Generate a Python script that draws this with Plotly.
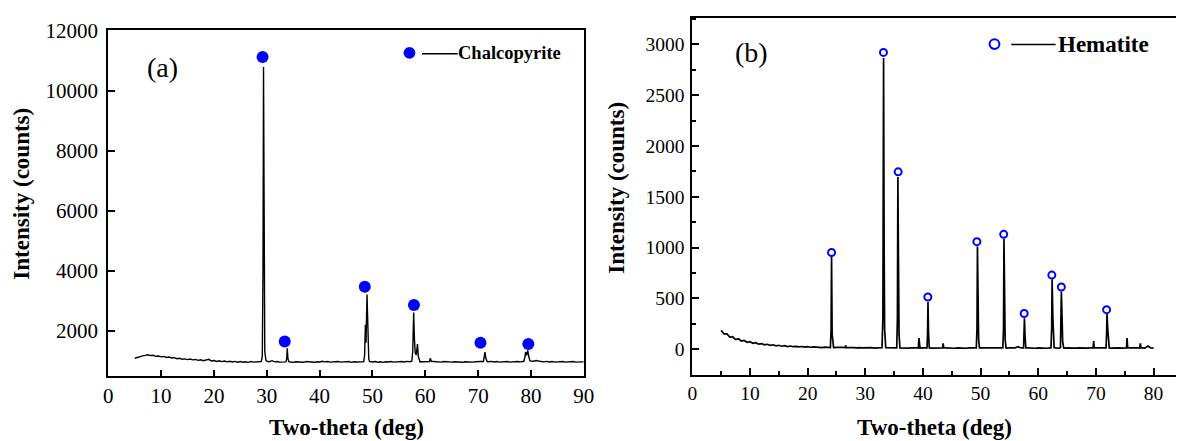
import plotly.graph_objects as go

# ---------------------------------------------------------------- data
# (a) chalcopyrite sample: background scan, 0.5 deg step from 5 to 90 deg
CHALCO_START, CHALCO_STEP = 5.0, 0.5
chalco_background = [
    1085, 1120, 1140, 1165, 1180, 1200, 1175, 1185, 1150, 1160,
    1130, 1145, 1110, 1125, 1095, 1105, 1070, 1085, 1050, 1065,
    1040, 1060, 1030, 1045, 1015, 1035, 1005, 1020, 1050, 995,
    1010, 980, 1000, 975, 995, 965, 985, 960, 980, 955,
    975, 955, 970, 950, 975, 955, 970, 960, 975, 965,
    985, 970, 1005, 965, 975, 955, 965, 950, 970, 960,
    950, 970, 955, 965, 950, 975, 955, 960, 950, 970,
    960, 985, 965, 975, 955, 970, 960, 975, 955, 970,
    960, 975, 950, 970, 960, 975, 965, 980, 970, 975,
    960, 975, 955, 970, 950, 970, 960, 975, 955, 970,
    965, 975, 960, 980, 970, 990, 985, 975, 960, 970,
    965, 980, 1000, 975, 960, 970, 955, 975, 960, 970,
    955, 970, 960, 975, 950, 970, 960, 975, 955, 970,
    960, 975, 965, 990, 970, 980, 960, 975, 955, 970,
    960, 975, 955, 970, 960, 975, 965, 980, 1000, 1010,
    990, 985, 1010, 980, 975, 965, 980, 960, 975, 955,
    970, 960, 975, 955, 970, 960, 975, 955, 970, 965,
    965,
]
# reflection profiles (two-theta, counts)
chalco_peaks = [
    [(28.95, 975), (29.15, 1150), (29.28, 4000), (29.38, 10780), (29.48, 4500), (29.62, 1300), (29.85, 1010)],
    [(33.62, 965), (33.76, 1060), (33.88, 1420), (34.0, 1070), (34.18, 970)],
    [(48.35, 975), (48.52, 1200), (48.66, 2200), (48.78, 1600), (48.97, 3210), (49.12, 1500), (49.3, 1060), (49.45, 980)],
    [(57.45, 985), (57.62, 1300), (57.8, 2610), (57.95, 1700), (58.1, 1250), (58.3, 1200), (58.52, 1560), (58.68, 1150), (58.9, 985)],
    [(60.8, 975), (60.95, 1085), (61.15, 980)],
    [(71.0, 975), (71.16, 1090), (71.3, 1290), (71.45, 1090), (71.7, 975)],
    [(78.65, 985), (78.85, 1120), (79.0, 1290), (79.15, 1180), (79.4, 1345), (79.55, 1160), (79.8, 1010)],
]
# indexed chalcopyrite reflections
chalco_mark_theta = [29.2, 33.4, 48.55, 57.85, 70.45, 79.5]
chalco_mark_counts = [11120, 1645, 3470, 2855, 1600, 1560]

# (b) hematite sample: background scan, 0.5 deg step from 5 to 80 deg
HEMA_START, HEMA_STEP = 5.0, 0.5
hema_background = [
    185, 150, 150, 118, 122, 95, 102, 80, 86, 68,
    74, 58, 63, 49, 55, 42, 48, 38, 43, 33,
    38, 29, 34, 26, 31, 24, 28, 22, 26, 20,
    24, 19, 22, 18, 21, 16, 20, 15, 19, 15,
    18, 14, 17, 13, 17, 13, 16, 12, 16, 12,
    15, 12, 15, 11, 14, 11, 14, 11, 14, 11,
    13, 10, 13, 10, 13, 10, 13, 10, 13, 10,
    13, 10, 12, 10, 12, 10, 12, 9, 12, 10,
    12, 9, 12, 10, 12, 9, 12, 10, 12, 9,
    12, 10, 12, 9, 12, 10, 12, 9, 12, 10,
    12, 9, 13, 25, 12, 9, 12, 10, 12, 9,
    12, 10, 12, 9, 12, 10, 12, 9, 12, 10,
    12, 9, 12, 10, 12, 9, 12, 10, 12, 9,
    12, 10, 12, 9, 12, 10, 12, 9, 12, 10,
    12, 9, 12, 10, 12, 9, 12, 10, 30, 12,
    10,
]
hema_peaks = [
    [(23.95, 15), (24.07, 200), (24.15, 910), (24.25, 150), (24.4, 15)],
    [(26.5, 16), (26.6, 35), (26.7, 16)],
    [(32.9, 15), (33.05, 300), (33.1, 1510), (33.17, 2865), (33.27, 1000), (33.35, 200), (33.55, 14)],
    [(35.45, 13), (35.57, 300), (35.65, 1695), (35.75, 900), (35.85, 150), (36.0, 13)],
    [(39.2, 12), (39.3, 110), (39.4, 12)],
    [(40.7, 12), (40.8, 150), (40.87, 465), (40.97, 150), (41.1, 12)],
    [(43.4, 12), (43.5, 57), (43.6, 12)],
    [(49.25, 12), (49.37, 200), (49.45, 1010), (49.55, 550), (49.65, 100), (49.8, 12)],
    [(53.85, 12), (53.97, 200), (54.05, 1085), (54.15, 605), (54.25, 100), (54.4, 12)],
    [(57.45, 12), (57.55, 120), (57.6, 305), (57.7, 130), (57.85, 12)],
    [(62.2, 12), (62.32, 200), (62.4, 688), (62.52, 325), (62.62, 80), (62.75, 15)],
    [(63.85, 15), (63.93, 200), (64.0, 568), (64.12, 325), (64.22, 80), (64.4, 12)],
    [(69.5, 12), (69.6, 80), (69.7, 12)],
    [(71.75, 12), (71.85, 150), (71.92, 350), (72.02, 225), (72.15, 60), (72.3, 12)],
    [(75.3, 12), (75.4, 110), (75.5, 15)],
    [(77.6, 12), (77.7, 57), (77.8, 12)],
]
hema_mark_theta = [24.15, 33.15, 35.7, 40.85, 49.35, 54.0, 57.55, 62.35, 64.0, 71.85]
hema_mark_counts = [951, 2921, 1745, 513, 1058, 1130, 351, 729, 612, 389]

chalco_x_ticks = [0, 10, 20, 30, 40, 50, 60, 70, 80, 90]
chalco_y_ticks = [2000, 4000, 6000, 8000, 10000, 12000]
hema_x_ticks = [0, 10, 20, 30, 40, 50, 60, 70, 80]
hema_y_ticks = [0, 500, 1000, 1500, 2000, 2500, 3000]


def build_pattern(start, step, background, peaks):
    """Merge the background scan with the reflection profiles."""
    pts = []
    spans = [(p[0][0], p[-1][0]) for p in peaks]
    for i, c in enumerate(background):
        t = round(start + step * i, 3)
        if any(lo <= t <= hi for lo, hi in spans):
            continue
        pts.append((t, c))
    for p in peaks:
        pts.extend(p)
    pts.sort()
    return [p[0] for p in pts], [p[1] for p in pts]


chalco_theta, chalco_counts = build_pattern(CHALCO_START, CHALCO_STEP, chalco_background, chalco_peaks)
hema_theta, hema_counts = build_pattern(HEMA_START, HEMA_STEP, hema_background, hema_peaks)

# ---------------------------------------------------------------- figure
W, H = 1187, 441
SERIF = "Liberation Serif"
BLUE = "#0000FF"


def px(x):
    return x / W


def py(y):
    return 1 - y / H


fig = go.Figure()
fig.add_trace(go.Scatter(x=chalco_theta, y=chalco_counts, mode="lines",
                         line=dict(color="black", width=1.4), xaxis="x", yaxis="y"))
fig.add_trace(go.Scatter(x=chalco_mark_theta, y=chalco_mark_counts, mode="markers",
                         marker=dict(symbol="circle", size=12, color=BLUE), xaxis="x", yaxis="y"))
fig.add_trace(go.Scatter(x=hema_theta, y=hema_counts, mode="lines",
                         line=dict(color="black", width=1.7), xaxis="x2", yaxis="y2"))
fig.add_trace(go.Scatter(x=hema_mark_theta, y=hema_mark_counts, mode="markers",
                         marker=dict(symbol="circle-open", size=7, color=BLUE, line=dict(width=2, color=BLUE)),
                         xaxis="x2", yaxis="y2"))

fig.update_layout(
    width=W, height=H, margin=dict(l=0, r=0, t=0, b=0),
    paper_bgcolor="white", plot_bgcolor="white", showlegend=False,
    font=dict(family=SERIF, color="black", size=19),
    xaxis=dict(domain=[px(104.7), px(586.7)], anchor="y", range=[0, 90], mirror=True,
               tickvals=chalco_x_ticks, ticktext=[str(v) for v in chalco_x_ticks], ticklen=6,
               ticklabelstandoff=0),
    yaxis=dict(domain=[py(374), py(19)], anchor="x", range=[500, 12000], mirror=True,
               tickvals=chalco_y_ticks, ticktext=[str(v) for v in chalco_y_ticks], ticklen=7,
               ticklabelstandoff=4),
    xaxis2=dict(domain=[px(696.7), 1.0], anchor="y2", range=[0, (W - 696.7) / 5.845], mirror=True,
                tickvals=hema_x_ticks, ticktext=[str(v) for v in hema_x_ticks], ticklen=7,
                ticklabelstandoff=0,
                minor=dict(ticks="inside", ticklen=4, tickwidth=1.5, tickcolor="black", tick0=0, dtick=5)),
    yaxis2=dict(domain=[py(372.7), py(6)], anchor="x2", range=[-250, 3261], mirror=False,
                tickvals=hema_y_ticks, ticktext=[str(v) for v in hema_y_ticks], ticklen=7,
                ticklabelstandoff=2,
                minor=dict(ticks="inside", ticklen=4, tickwidth=1.5, tickcolor="black", tick0=0, dtick=250)),
)
# shared axis styling
fig.update_xaxes(showgrid=False, zeroline=False, showline=True, linecolor="black", linewidth=2,
                 ticks="inside", tickcolor="black", tickwidth=1.5)
fig.update_yaxes(showgrid=False, zeroline=False, showline=True, linecolor="black", linewidth=2,
                 ticks="inside", tickcolor="black", tickwidth=1.5)
fig.update_layout(xaxis_tickfont=dict(family=SERIF, size=21, color="black"),
                  yaxis_tickfont=dict(family=SERIF, size=21, color="black"),
                  xaxis2_tickfont=dict(family=SERIF, size=19.5, color="black"),
                  yaxis2_tickfont=dict(family=SERIF, size=19.5, color="black"))

annotations = []
title_font = dict(family=SERIF, size=23, color="black", weight="bold")
for xc, yc in [(17, 187), (619, 181)]:
    annotations.append(dict(text="Intensity (counts)", x=px(xc), y=py(yc), xref="paper", yref="paper",
                            textangle=-90, showarrow=False, font=title_font,
                            xanchor="center", yanchor="middle"))
for xc, yc in [(346, 427), (942, 427)]:
    annotations.append(dict(text="Two-theta (deg)", x=px(xc), y=py(yc), xref="paper", yref="paper",
                            showarrow=False, font=title_font, xanchor="center", yanchor="middle"))
# panel letters
for txt, xc, yc in [("(a)", 160, 57), ("(b)", 757, 42)]:
    annotations.append(dict(text=txt, x=px(xc), y=py(yc), xref="paper", yref="paper", showarrow=False,
                            font=dict(family=SERIF, size=28, color="black"),
                            xanchor="center", yanchor="middle"))
# phase keys
annotations.append(dict(text="Chalcopyrite", x=px(459), y=py(42), xref="paper", yref="paper", showarrow=False,
                        font=dict(family=SERIF, size=18.5, color="black", weight="bold"),
                        xanchor="left", yanchor="middle", xshift=-2))
annotations.append(dict(text="Hematite", x=px(1065), y=py(33), xref="paper", yref="paper", showarrow=False,
                        font=dict(family=SERIF, size=23, color="black", weight="bold"),
                        xanchor="left", yanchor="middle", xshift=0))
fig.update_layout(annotations=annotations)

shapes = [
    dict(type="circle", xref="paper", yref="paper", x0=px(404), x1=px(416), y0=py(48), y1=py(36),
         fillcolor=BLUE, line=dict(color=BLUE, width=0)),
    dict(type="line", xref="paper", yref="paper", x0=px(422.7), x1=px(459), y0=py(43), y1=py(43),
         line=dict(color="black", width=1.5)),
    dict(type="circle", xref="paper", yref="paper", x0=px(998), x1=px(1008), y0=py(38), y1=py(28),
         fillcolor="rgba(0,0,0,0)", line=dict(color=BLUE, width=2)),
    dict(type="line", xref="paper", yref="paper", x0=px(1020), x1=px(1065), y0=py(33.5), y1=py(33.5),
         line=dict(color="black", width=1.5)),
]
fig.update_layout(shapes=shapes)

fig.write_html("out.html")
